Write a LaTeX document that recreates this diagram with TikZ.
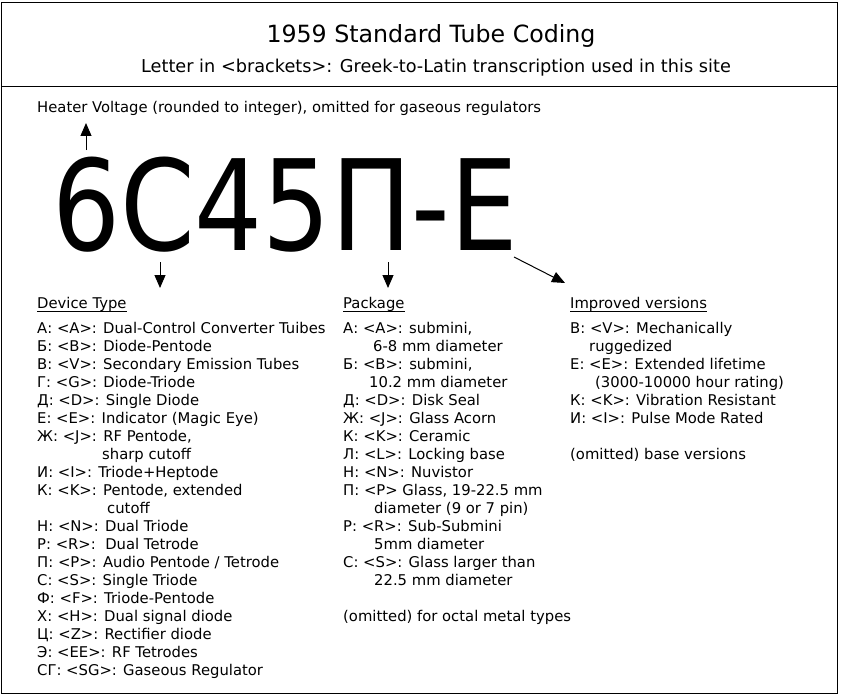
\documentclass[tikz,border=0pt]{standalone}
\usepackage{fontspec}
\setmainfont{DejaVu Sans}
\newfontfamily\condfont{DejaVu Sans Condensed}
\usetikzlibrary{arrows.meta}
\newcommand\tline[4]{\node[txt] (#1) at (#2,#3) {#4};}
\begin{document}
\begin{tikzpicture}[x=1pt,y=-1pt,
  txt/.style={anchor=base west,inner sep=0pt,font=\fontsize{14.8}{17}\selectfont},
  frame/.style={line width=1pt},
  arr/.style={-{Triangle[width=11pt,length=13pt]},line width=1pt}]
\useasboundingbox (0,0) rectangle (843,698);
\draw[frame] (1.5,2.5) rectangle (837,693.5);
\draw[frame] (1.5,87) -- (837,87);
\node[anchor=base,inner sep=0pt,font=\fontsize{23.7}{26}\selectfont] (title) at (431,43) {1959 Standard Tube Coding};
\node[anchor=base,inner sep=0pt,font=\fontsize{17.7}{21}\selectfont] (sub) at (436,73) {Letter in <brackets>: Greek-to-Latin transcription used in this site};
\tline{heater}{37}{113}{Heater Voltage (rounded to integer), omitted for gaseous regulators}
\node[anchor=base west,inner sep=0pt,font=\condfont\fontsize{126}{126}\selectfont] (code) at (52,250) {\scalebox{0.944}[1]{6С45П-Е}};
% arrows
\coordinate (ua) at (86,150); \coordinate (ub) at (86,123);
\coordinate (da) at (160,262); \coordinate (db) at (160,288);
\coordinate (pa) at (388,262); \coordinate (pb) at (388,288);
\coordinate (ia) at (514,257); \coordinate (ib) at (565,283);
\draw[arr] (ua) -- (ub);
\draw[arr] (da) -- (db);
\draw[arr] (pa) -- (pb);
\draw[arr] (ia) -- (ib);
% headings
\tline{hdev}{37}{308}{Device Type}
\tline{hpkg}{343}{308}{Package}
\tline{himp}{570}{308}{Improved versions}
\foreach \h in {hdev,hpkg,himp}
  \draw[line width=1pt] ([yshift=-3pt]\h.base west) -- ([yshift=-3pt]\h.base east);
% device type
\tline{d0}{37}{333}{А: <A>: Dual-Control Converter Tuibes}
\tline{d1}{37}{351}{Б: <B>: Diode-Pentode}
\tline{d2}{37}{369}{В: <V>: Secondary Emission Tubes}
\tline{d3}{37}{387}{Г: <G>: Diode-Triode}
\tline{d4}{37}{405}{Д: <D>: Single Diode}
\tline{d5}{37}{423}{Е: <E>: Indicator (Magic Eye)}
\tline{d6}{37}{441}{Ж: <J>: RF Pentode,}
\tline{d7}{102}{459}{sharp cutoff}
\tline{d8}{37}{477}{И: <I>: Triode+Heptode}
\tline{d9}{37}{495}{К: <K>: Pentode, extended}
\tline{d10}{107}{513}{cutoff}
\tline{d11}{37}{531}{Н: <N>: Dual Triode}
\tline{d12}{37}{549}{Р: <R>:\ \ Dual Tetrode}
\tline{d13}{37}{567}{П: <P>: Audio Pentode / Tetrode}
\tline{d14}{37}{585}{С: <S>: Single Triode}
\tline{d15}{37}{603}{Ф: <F>: Triode-Pentode}
\tline{d16}{37}{621}{Х: <H>: Dual signal diode}
\tline{d17}{37}{639}{Ц: <Z>: Rectifier diode}
\tline{d18}{37}{657}{Э: <EE>: RF Tetrodes}
\tline{d19}{37}{675}{СГ: <SG>: Gaseous Regulator}
% package
\tline{p0}{343}{333}{А: <A>: submini,}
\tline{p1}{373}{351}{6-8 mm diameter}
\tline{p2}{343}{369}{Б: <B>: submini,}
\tline{p3}{369}{387}{10.2 mm diameter}
\tline{p4}{343}{405}{Д: <D>: Disk Seal}
\tline{p5}{343}{423}{Ж: <J>: Glass Acorn}
\tline{p6}{343}{441}{К: <K>: Ceramic}
\tline{p7}{343}{459}{Л: <L>: Locking base}
\tline{p8}{343}{477}{Н: <N>: Nuvistor}
\tline{p9}{343}{495}{П: <P> Glass, 19-22.5 mm}
\tline{p10}{374}{513}{diameter (9 or 7 pin)}
\tline{p11}{343}{531}{Р: <R>: Sub-Submini}
\tline{p12}{374}{549}{5mm diameter}
\tline{p13}{343}{567}{С: <S>: Glass larger than}
\tline{p14}{374}{585}{22.5 mm diameter}
\tline{p15}{343}{621}{(omitted) for octal metal types}
% improved
\tline{i0}{570}{333}{В: <V>: Mechanically}
\tline{i1}{589}{351}{ruggedized}
\tline{i2}{570}{369}{Е: <E>: Extended lifetime}
\tline{i3}{595}{387}{(3000-10000 hour rating)}
\tline{i4}{570}{405}{К: <K>: Vibration Resistant}
\tline{i5}{570}{423}{И: <I>: Pulse Mode Rated}
\tline{i6}{570}{459}{(omitted) base versions}
\end{tikzpicture}
\end{document}
